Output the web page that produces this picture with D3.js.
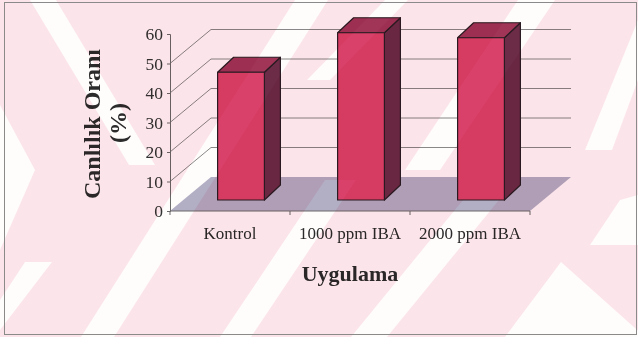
<!DOCTYPE html>
<html>
<head>
<meta charset="utf-8">
<script src="https://cdn.jsdelivr.net/npm/d3@7"></script>
<style>
  html, body { margin: 0; padding: 0; background: #ffffff; }
  svg { display: block; }
  .serif { font-family: "Liberation Serif", "Times New Roman", Times, serif; }
</style>
</head>
<body>
<svg id="chart" width="638" height="337"></svg>
<script>
// Survival rate of cuttings by treatment
const categories = ["Kontrol", "1000 ppm IBA", "2000 ppm IBA"];
const survival = [43.3, 56.7, 55.0];
const yTicks = [0, 10, 20, 30, 40, 50, 60];
const gridValues = [10, 20, 30, 40, 50];
const yTitleLines = ["Canlılık Oranı", "(%)"];
const xTitle = "Uygulama";

const svg = d3.select("#chart");
const W = 638, H = 337;

// plot frame
const x = d3.scaleBand().domain(categories).range([170, 530]).paddingInner(0).paddingOuter(0);
const y = d3.scaleLinear().domain([0, 60]).range([211, 34]);

// oblique projection vectors
const floorDepth = { dx: 41, dy: -34 };
const barFront = { dx: 11, dy: -11 };
const barDepth = { dx: 16, dy: -15 };
const barWidth = x.bandwidth() * 0.39;

const x0 = x.range()[0], x1 = x.range()[1];

svg.append("rect").attr("width", W).attr("height", H).attr("fill", "#ffffff");

// floor
const floorPts = [
  [x0, y(0)], [x1, y(0)],
  [x1 + floorDepth.dx, y(0) + floorDepth.dy], [x0 + floorDepth.dx, y(0) + floorDepth.dy]
];
svg.append("polygon")
  .attr("points", floorPts.map(p => p.join(",")).join(" "))
  .attr("fill", "#b2b0c6");

// side wall diagonals and back wall gridlines
const grid = svg.append("g").attr("stroke", "#7c7c7c").attr("stroke-width", 0.9).attr("fill", "none");
gridValues.forEach(v => {
  grid.append("line")
    .attr("x1", x0).attr("y1", y(v))
    .attr("x2", x0 + floorDepth.dx).attr("y2", y(v) + floorDepth.dy);
  grid.append("line")
    .attr("x1", x0 + floorDepth.dx).attr("y1", y(v) + floorDepth.dy)
    .attr("x2", x1 + floorDepth.dx).attr("y2", y(v) + floorDepth.dy);
});

// value axis
const yAxis = d3.axisLeft(y).tickValues(yTicks).tickSize(3).tickPadding(4);
const gy = svg.append("g").attr("transform", `translate(${x0},0)`).call(yAxis);
gy.select(".domain").attr("stroke", "#6a6a6a");
gy.selectAll(".tick line").attr("stroke", "#6a6a6a");
gy.selectAll(".tick text")
  .attr("class", "serif")
  .attr("font-size", 17.5)
  .attr("fill", "#333333");

// category axis
const xAxis = d3.axisBottom(x).tickSize(0).tickPadding(0);
const gx = svg.append("g").attr("transform", `translate(0,${y(0)})`).call(xAxis);
gx.select(".domain").attr("stroke", "#6a6a6a").attr("d", `M${x0},0H${x1}`);
gx.selectAll(".tick text")
  .attr("class", "serif")
  .attr("font-size", 17)
  .attr("fill", "#2a2a2a")
  .attr("y", 28)
  .attr("dy", 0);
// boundary tick marks between categories
const bounds = categories.map(c => x(c) + x.bandwidth()).concat([x0]);
gx.selectAll("line.bound").data(bounds).enter().append("line")
  .attr("class", "bound")
  .attr("x1", d => d).attr("x2", d => d)
  .attr("y1", 0).attr("y2", 4)
  .attr("stroke", "#6a6a6a");

// 3D columns
const bars = svg.append("g").attr("stroke", "#2a1b22").attr("stroke-width", 1.2).attr("stroke-linejoin", "round");
categories.forEach((c, i) => {
  const v = survival[i];
  const left = x(c) + x.bandwidth() / 2 - barWidth / 2 + barFront.dx;
  const right = left + barWidth;
  const top = y(v) + barFront.dy;
  const bottom = y(0) + barFront.dy;
  const bx = barDepth.dx, by = barDepth.dy;
  // side face
  bars.append("polygon")
    .attr("points", [[right, top], [right + bx, top + by], [right + bx, bottom + by], [right, bottom]].map(p => p.join(",")).join(" "))
    .attr("fill", "#6c2b48");
  // top face
  bars.append("polygon")
    .attr("points", [[left, top], [left + bx, top + by], [right + bx, top + by], [right, top]].map(p => p.join(",")).join(" "))
    .attr("fill", "#a03559");
  // front face
  bars.append("rect")
    .attr("x", left).attr("y", top)
    .attr("width", barWidth).attr("height", bottom - top)
    .attr("fill", "#da426b");
});

// axis titles
const yTitle = svg.append("g").attr("class", "serif").attr("font-weight", "bold").attr("font-size", 24).attr("fill", "#2b2b2b");
yTitle.append("text")
  .attr("transform", "translate(100,124) rotate(-90)")
  .attr("text-anchor", "middle")
  .text(yTitleLines[0]);
yTitle.append("text")
  .attr("transform", "translate(126,123) rotate(-90)")
  .attr("text-anchor", "middle")
  .text(yTitleLines[1]);

svg.append("text")
  .attr("class", "serif")
  .attr("x", 350).attr("y", 281)
  .attr("text-anchor", "middle")
  .attr("font-weight", "bold")
  .attr("font-size", 22)
  .attr("fill", "#2b2b2b")
  .text(xTitle);

// tinted diagonal backdrop pattern, multiplied over the page
const tint = svg.append("g").style("mix-blend-mode", "multiply");
tint.append("rect").attr("width", W).attr("height", H).attr("fill", "#fbe5ea");
const lightBands = [
  [[30, 0], [56, 0], [155, 165], [129, 165]],
  [[295, 0], [328, 0], [114, 337], [81, 337]],
  [[385, 0], [408, 0], [330, 80], [307, 80]],
  [[518, 0], [555, 0], [440, 170], [405, 170]],
  [[325, 180], [356, 180], [251, 337], [220, 337]],
  [[463, 200], [499, 200], [387, 337], [351, 337]],
  [[638, 20], [638, 80], [612, 150], [585, 150]],
  [[638, 195], [638, 245], [590, 245], [620, 200]],
  [[561, 262], [645, 337], [505, 337]],
  [[0, 105], [35, 170], [0, 250]],
  [[25, 262], [52, 262], [0, 330], [0, 300]]
];
tint.selectAll("polygon").data(lightBands).enter().append("polygon")
  .attr("points", d => d.map(p => p.join(",")).join(" "))
  .attr("fill", "#fffcfc");

// outer frame
svg.append("rect")
  .attr("x", 4.5).attr("y", 2.5)
  .attr("width", 632).attr("height", 332)
  .attr("fill", "none")
  .attr("stroke", "#8a8a8a")
  .attr("stroke-width", 1);
</script>
</body>
</html>
